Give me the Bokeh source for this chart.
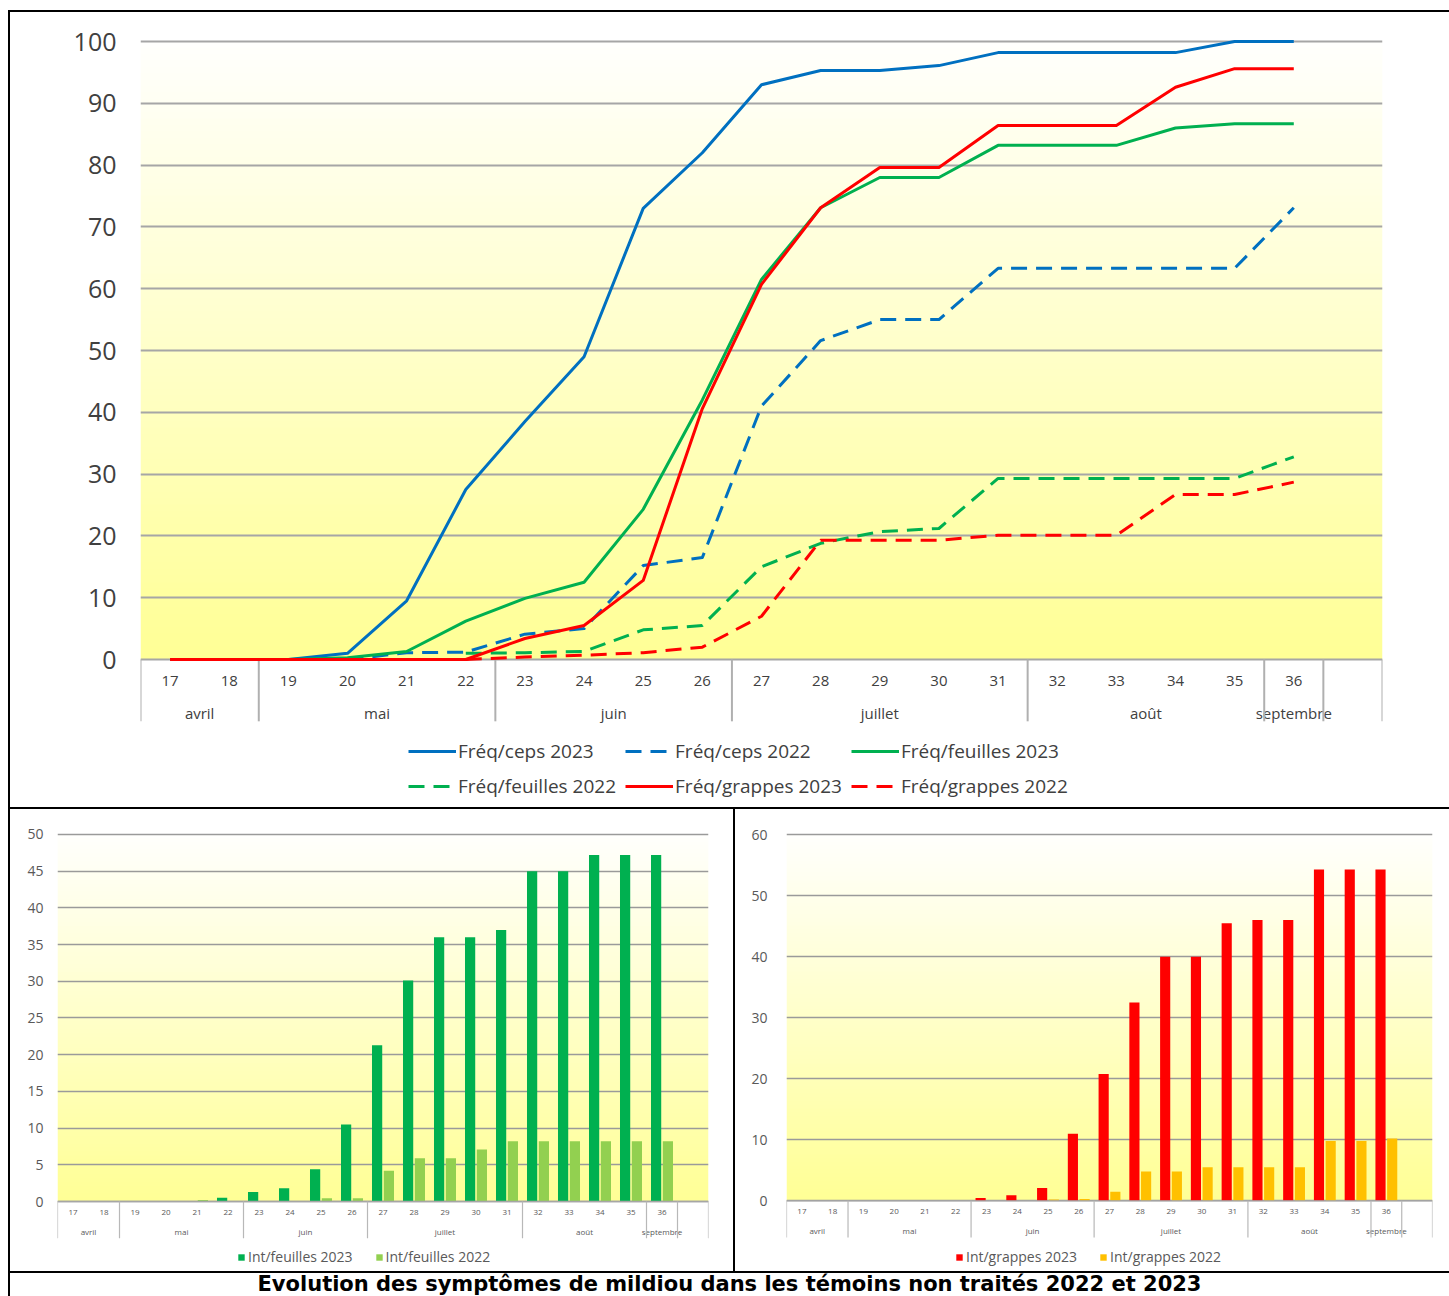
import numpy as np
from bokeh.plotting import figure
from bokeh.models import (FixedTicker, Legend, LegendItem, Div, ColumnDataSource,
                          Range1d, Grid)
from bokeh.transform import dodge
from bokeh.layouts import column, row
from bokeh.embed import file_html
from bokeh.resources import INLINE
from bokeh.core.properties import value

nan = float("nan")

# ---------------- data ----------------
weeks = ["17", "18", "19", "20", "21", "22", "23", "24", "25", "26",
         "27", "28", "29", "30", "31", "32", "33", "34", "35", "36"]
months = ["avril", "mai", "juin", "juillet", "août", "septembre"]
month_span = [2, 4, 4, 5, 4, 1]
n_slots = 21  # one trailing empty category

freq_ceps_2023 = [0, 0, 0, 1, 9.5, 27.5, 38.5, 49, 73, 82, 93, 95.3, 95.3, 96.1, 98.2, 98.2, 98.2, 98.2, 100, 100]
freq_ceps_2022 = [nan, nan, nan, 0, 1.1, 1.2, 4.1, 5.0, 15.2, 16.5, 41, 51.6, 55, 55, 63.3, 63.3, 63.3, 63.3, 63.3, 73.1]
freq_feuilles_2023 = [0, 0, 0, 0.3, 1.3, 6.2, 9.9, 12.5, 24.3, 42, 61.5, 73.1, 78, 78, 83.2, 83.2, 83.2, 86, 86.7, 86.7]
freq_feuilles_2022 = [nan, nan, nan, nan, nan, 1.0, 1.1, 1.3, 4.8, 5.5, 15, 18.8, 20.7, 21.2, 29.3, 29.3, 29.3, 29.3, 29.3, 32.8]
freq_grappes_2023 = [0, 0, 0, 0, 0, 0, 3.4, 5.5, 12.8, 40.6, 60.7, 73.1, 79.6, 79.6, 86.4, 86.4, 86.4, 92.6, 95.6, 95.6]
freq_grappes_2022 = [nan, nan, nan, nan, nan, 0, 0.4, 0.7, 1.1, 2.0, 7, 19.3, 19.3, 19.3, 20.1, 20.1, 20.1, 26.7, 26.7, 28.7]

int_feuilles_2023 = [0, 0, 0, 0, 0, 0.5, 1.3, 1.8, 4.4, 10.5, 21.3, 30.1, 36, 36, 37, 45, 45, 47.2, 47.2, 47.2]
int_feuilles_2022 = [0, 0, 0, 0, 0.2, 0, 0, 0, 0.45, 0.45, 4.2, 5.9, 5.9, 7.1, 8.2, 8.2, 8.2, 8.2, 8.2, 8.2]
int_grappes_2023 = [0, 0, 0, 0, 0, 0, 0.45, 0.9, 2.1, 11, 20.8, 32.5, 40, 40, 45.5, 46, 46, 54.3, 54.3, 54.3]
int_grappes_2022 = [0, 0, 0, 0, 0, 0, 0, 0, 0.2, 0.3, 1.5, 4.8, 4.8, 5.5, 5.5, 5.5, 5.5, 9.8, 9.8, 10.2]

title_text = "Evolution des symptômes de mildiou dans les témoins non traités 2022 et 2023"

FONT = "Open Sans"
TXT = "#404040"
TXT2 = "#595959"


def add_gradient(p, top_val):
    n = 96
    img = np.zeros((n, 1), dtype=np.uint32)
    v = img.view(dtype=np.uint8).reshape((n, 1, 4))
    t = np.linspace(0.0, 1.0, n)
    v[:, 0, 0] = 255
    v[:, 0, 1] = 255
    v[:, 0, 2] = (150 + (253 - 150) * t).astype(np.uint8)
    v[:, 0, 3] = 255
    p.image_rgba(image=[img], x=-0.5, y=0, dw=n_slots, dh=top_val, level="image")


def style_y(p, ticks, size, standoff, color, grid_w, grid_c):
    for g in p.grid:
        g.visible = False
    tk = FixedTicker(ticks=ticks)
    p.yaxis.ticker = tk
    p.yaxis.axis_line_color = None
    p.yaxis.major_tick_line_color = None
    p.yaxis.minor_tick_line_color = None
    p.yaxis.major_label_standoff = standoff
    p.yaxis.major_label_text_font = FONT
    p.yaxis.major_label_text_font_size = size
    p.yaxis.major_label_text_color = color
    p.add_layout(Grid(dimension=1, ticker=tk, grid_line_color=grid_c, grid_line_width=grid_w))
    p.outline_line_color = None
    p.toolbar.logo = None


def cat_axis(p, week_off, month_off, sep_units, fsize_w, fsize_m, color, sep_color, sep_w):
    xs = list(range(len(weeks)))
    p.text(x=xs, y=0, text=weeks, y_offset=week_off, text_align="center",
           text_baseline="middle", text_font=value(FONT), text_font_size=fsize_w,
           text_color=color)
    bounds = np.concatenate([[0], np.cumsum(month_span)]) - 0.5
    centers = (bounds[:-1] + bounds[1:]) / 2
    p.text(x=list(centers), y=0, text=months, y_offset=month_off, text_align="center",
           text_baseline="middle", text_font=value(FONT), text_font_size=fsize_m,
           text_color=color)
    seps = list(bounds) + [n_slots - 0.5]
    p.segment(x0=seps, y0=0, x1=seps, y1=-sep_units, line_color=sep_color, line_width=sep_w)


# ---------------- top chart ----------------
top = figure(width=1439, height=795, output_backend="svg", toolbar_location=None,
             x_axis_location=None, x_range=Range1d(-0.5, n_slots - 0.5),
             y_range=Range1d(-23.46, 101.78),
             min_border_left=130, min_border_right=67, min_border_top=18, min_border_bottom=3)
style_y(top, list(range(0, 101, 10)), "25px", 18, TXT, 2, "#A6A6A6")
add_gradient(top, 100)
cat_axis(top, 21, 53, 10.0, "15px", "15px", TXT, "#B0B0B0", 2)

xs = list(range(len(weeks)))
series = [
    ("Fréq/ceps 2023", freq_ceps_2023, "#0070C0", "solid"),
    ("Fréq/ceps 2022", freq_ceps_2022, "#0070C0", "16 9"),
    ("Fréq/feuilles 2023", freq_feuilles_2023, "#00B050", "solid"),
    ("Fréq/feuilles 2022", freq_feuilles_2022, "#00B050", "16 9"),
    ("Fréq/grappes 2023", freq_grappes_2023, "#FF0000", "solid"),
    ("Fréq/grappes 2022", freq_grappes_2022, "#FF0000", "16 9"),
]
items = []
for label, ys, c, dash in series:
    r = top.line(x=xs, y=ys, line_color=c, line_width=3, line_dash=dash, line_join="round")
    items.append(LegendItem(label=label, renderers=[r]))

leg = Legend(items=items, location=(268, 5), orientation="horizontal", ncols=3,
             glyph_width=48, glyph_height=20, label_standoff=2, spacing=9,
             padding=0, margin=0, border_line_color=None, background_fill_alpha=0,
             label_text_font=FONT, label_text_font_size="19px", label_text_color=TXT)
top.add_layout(leg)


# ---------------- bottom charts ----------------
def bar_chart(width, min_left, min_right, min_top, y_lo, y_hi, ticks, top_val, s23, s22,
              c23, c22, l23, l22, sep_units, leg_x, standoff):
    p = figure(width=width, height=462, output_backend="svg", toolbar_location=None,
               x_axis_location=None, x_range=Range1d(-0.5, n_slots - 0.5),
               y_range=Range1d(y_lo, y_hi),
               min_border_left=min_left, min_border_right=min_right,
               min_border_top=min_top, min_border_bottom=4)
    style_y(p, ticks, "14px", standoff, TXT2, 1.3, "#9A9A9A")
    add_gradient(p, top_val)
    src = ColumnDataSource(dict(x=list(range(len(weeks))), a=s23, b=s22))
    r1 = p.vbar(x=dodge("x", -0.19), top="a", width=0.33, source=src,
                fill_color=c23, line_color=None)
    r2 = p.vbar(x=dodge("x", 0.19), top="b", width=0.33, source=src,
                fill_color=c22, line_color=None)
    p.segment(x0=[-0.5], y0=[0], x1=[n_slots - 0.5], y1=[0], line_color="#A6A6A6", line_width=1.3)
    cat_axis(p, 11, 30, sep_units, "8px", "8px", TXT2, "#B8B8B8", 1.2)
    lg = Legend(items=[LegendItem(label=l23, renderers=[r1]), LegendItem(label=l22, renderers=[r2])],
                location=(leg_x, 1), orientation="horizontal", glyph_width=8, glyph_height=8,
                label_standoff=3, spacing=22, padding=0, margin=0, border_line_color=None,
                background_fill_alpha=0, label_text_font=FONT, label_text_font_size="14px",
                label_text_color=TXT2)
    p.add_layout(lg)
    return p


left = bar_chart(723, 47, 25, 23, -8.99, 50.27, list(range(0, 51, 5)), 50,
                 int_feuilles_2023, int_feuilles_2022, "#00B050", "#92D050",
                 "Int/feuilles 2023", "Int/feuilles 2022", 5.0, 180, 8)
right = bar_chart(714, 51, 17, 21, -10.93, 60.36, list(range(0, 61, 10)), 60,
                  int_grappes_2023, int_grappes_2022, "#FF0000", "#FFC000",
                  "Int/grappes 2023", "Int/grappes 2022", 6.0, 169, 13)


def bar(w, h):
    return Div(text="", width=w, height=h, margin=0, styles={"background-color": "black"})


title = Div(text=('<div style="font-family: \'DejaVu Sans\'; font-weight: bold; font-size: 21px; '
                  'text-align: center; width: 1439px; line-height: 23px; color: black; '
                  'white-space: nowrap;">' + title_text + '</div>'),
            width=1439, height=23, margin=0, styles={"overflow": "hidden"})

layout = column(
    bar(1441, 2),
    row(bar(2, 795), top),
    bar(1441, 2),
    row(bar(2, 462), left, bar(2, 462), right),
    bar(1441, 2),
    row(bar(2, 23), title),
    margin=(10, 0, 0, 8),
)

open("out.html", "w").write(file_html(layout, INLINE))
